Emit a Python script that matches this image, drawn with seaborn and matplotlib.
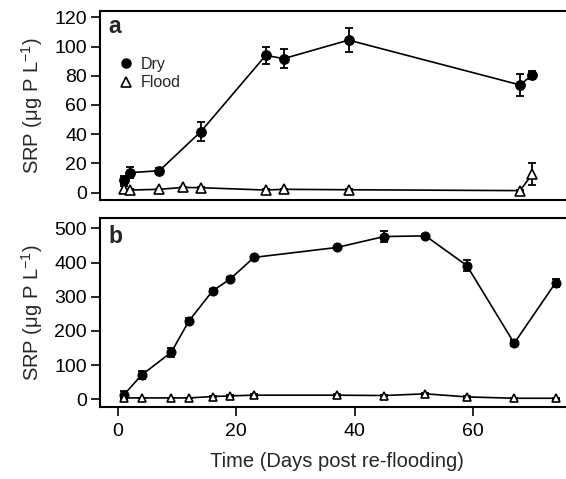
import matplotlib
matplotlib.use("Agg")
import matplotlib.pyplot as plt
import seaborn as sns
import pandas as pd
from matplotlib.lines import Line2D

# ---- data ----
a_dry_days = [1, 2, 7, 14, 25, 28, 39, 68, 70]
a_dry = [8.7, 13.7, 15, 41.7, 94, 91.7, 104.4, 73.7, 80.5]
a_dry_se = [3, 4, 2, 6.5, 6, 6.5, 8.3, 7.5, 3]

a_flood_days = [1, 2, 7, 11, 14, 25, 28, 39, 68, 70]
a_flood = [2.3, 1.8, 2.3, 3.6, 3.4, 1.8, 2.3, 2.0, 1.4, 12.5]
a_flood_se = [2, 0.5, 0.5, 0.5, 0.5, 0.5, 0.5, 0.5, 0.5, 7.5]

b_days = [1, 4, 9, 12, 16, 19, 23, 37, 45, 52, 59, 67, 74]
b_dry = [13, 71, 137, 229, 317, 352, 415, 444, 476, 478, 391, 164, 341]
b_dry_se = [10, 13, 12, 10, 7, 6, 5, 5, 17, 5, 15, 8, 12]
b_flood = [4, 4, 4, 4, 8, 10, 12, 12, 11, 16, 7, 3, 3]
b_flood_se = [2, 1, 1, 1, 2, 2, 2, 2, 2, 3, 2, 1, 1]

treatments = ["Dry", "Flood"]
x_ticks = [0, 20, 40, 60]
a_yticks = [0, 20, 40, 60, 80, 100, 120]
b_yticks = [0, 100, 200, 300, 400, 500]

sns.set_theme(style="ticks")
plt.rcParams["font.family"] = ["Liberation Sans", "DejaVu Sans"]
plt.rcParams["mathtext.fontset"] = "custom"
plt.rcParams["mathtext.rm"] = "Liberation Sans"
plt.rcParams["mathtext.it"] = "Liberation Sans:italic"

fig = plt.figure(figsize=(5.66, 4.79), dpi=100)
W = 0.836
axa = fig.add_axes([0.177, 0.5825, W, 0.3945])
axb = fig.add_axes([0.177, 0.151, W, 0.393])


def make_df(dd, dv, fd, fv):
    return pd.DataFrame({
        "day": list(dd) + list(fd),
        "srp": list(dv) + list(fv),
        "trt": ["Dry"] * len(dd) + ["Flood"] * len(fd),
    })


def draw(ax, df, dd, dv, dse, fd, fv, fse, ms_c, ms_t):
    ax.errorbar(dd, dv, yerr=dse, fmt="none", ecolor="black", elinewidth=1.3,
                capsize=3, capthick=1.3, zorder=2)
    ax.errorbar(fd, fv, yerr=fse, fmt="none", ecolor="black", elinewidth=1.3,
                capsize=3, capthick=1.3, zorder=2)
    sns.lineplot(data=df[df.trt == "Dry"], x="day", y="srp", ax=ax,
                 color="black", lw=1.2, marker="o", markersize=ms_c,
                 markerfacecolor="black", markeredgecolor="black",
                 legend=False, zorder=3)
    sns.lineplot(data=df[df.trt == "Flood"], x="day", y="srp", ax=ax,
                 color="black", lw=1.2, marker="^", markersize=ms_t,
                 markerfacecolor="white", markeredgecolor="black",
                 markeredgewidth=1.2, legend=False, zorder=3)


dfa = make_df(a_dry_days, a_dry, a_flood_days, a_flood)
dfb = make_df(b_days, b_dry, b_days, b_flood)
draw(axa, dfa, a_dry_days, a_dry, a_dry_se, a_flood_days, a_flood, a_flood_se, 7, 6.5)
draw(axb, dfb, b_days, b_dry, b_dry_se, b_days, b_flood, b_flood_se, 6.5, 6)

ylab = "SRP (μg P L$^{-1}$)"
for ax in (axa, axb):
    ax.set_xlim(-3, 77)
    for s in ax.spines.values():
        s.set_linewidth(1.5)
        s.set_color("black")
    ax.tick_params(axis="both", direction="out", length=6.5, width=1.2,
                   labelsize=14, pad=3, colors="black")
    ax.set_ylabel(ylab, fontsize=14.5, labelpad=7)

axa.set_ylim(-5, 124.3)
axa.set_yticks(a_yticks)
axa.set_xticks(x_ticks)
axa.tick_params(axis="x", bottom=False, labelbottom=False)
axa.set_xlabel("")

axb.set_ylim(-21.6, 529)
axb.set_yticks(b_yticks)
axb.set_xticks(x_ticks)
axb.tick_params(axis="x", pad=5)
axb.set_xlabel("Time (Days post re-flooding)", fontsize=14.5, labelpad=9)

axa.text(0.018, 0.884, "a", transform=axa.transAxes, fontsize=16.5,
         fontweight="bold", va="baseline", ha="left")
axb.text(0.018, 0.869, "b", transform=axb.transAxes, fontsize=16.5,
         fontweight="bold", va="baseline", ha="left")

handles = [
    Line2D([], [], ls="none", marker="o", color="black", markersize=6.5),
    Line2D([], [], ls="none", marker="^", markerfacecolor="white",
           markeredgecolor="black", markeredgewidth=1.2, markersize=6.5),
]
axa.legend(handles, treatments, loc="upper left", bbox_to_anchor=(0.025, 0.79),
           frameon=False, fontsize=11.5, handlelength=1.0, handletextpad=0.4,
           labelspacing=0.2, borderaxespad=0)

fig.savefig("out.png", dpi=100)
